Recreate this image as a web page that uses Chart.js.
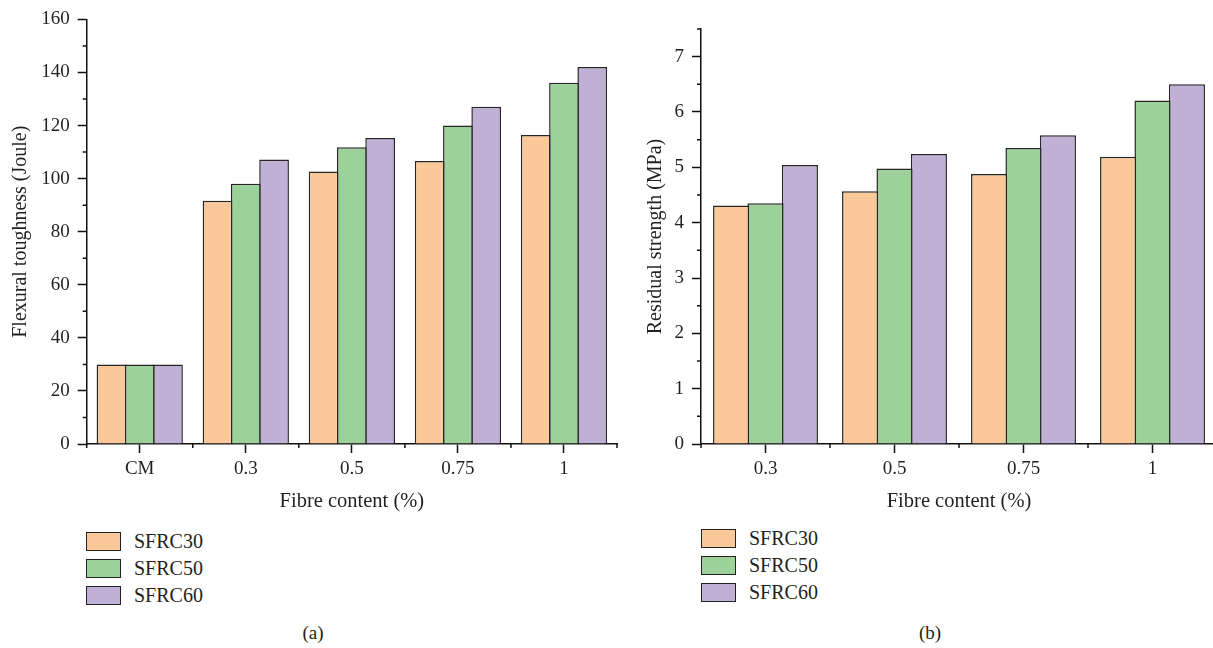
<!DOCTYPE html>
<html>
<head>
<meta charset="utf-8">
<script src="https://cdn.jsdelivr.net/npm/chart.js@4.4.0/dist/chart.umd.min.js"></script>
<style>
  body { margin: 0; width: 1213px; height: 648px; overflow: hidden; background: #fff; position: relative;
         font-family: 'Liberation Serif', 'DejaVu Serif', serif; color: #231f20; }
  canvas { position: absolute; top: 0; }
  #toughness { left: 0; }
  #residual { left: 600px; }
  .legend { position: absolute; font-size: 20px; }
  .legend .row { height: 27px; display: flex; align-items: center; }
  .legend .box { width: 35px; height: 19px; border: 1.2px solid #222; box-sizing: border-box; margin-right: 13px; }
  .caption { position: absolute; font-size: 19px; line-height: 22px; transform: translateX(-50%); }
</style>
</head>
<body>
<canvas id="toughness" width="640" height="520"></canvas>
<canvas id="residual" width="640" height="520"></canvas>
<div class="legend" id="legendA" style="left:86px; top:528px;"></div>
<div class="legend" id="legendB" style="left:701px; top:525px;"></div>
<div class="caption" style="left:313px; top:622px;">(a)</div>
<div class="caption" style="left:930px; top:622px;">(b)</div>
<script>
// Flexural toughness (J) per fibre content
const toughCategories = ['CM', '0.3', '0.5', '0.75', '1'];
const toughSFRC30 = [30, 91.7, 102.7, 106.6, 116.4];
const toughSFRC50 = [30, 98.1, 111.8, 120, 136.1];
const toughSFRC60 = [30, 107.2, 115.3, 127.1, 142.1];

// Residual strength (MPa) per fibre content
const residualCategories = ['0.3', '0.5', '0.75', '1'];
const residualSFRC30 = [4.31, 4.57, 4.88, 5.19];
const residualSFRC50 = [4.35, 4.98, 5.35, 6.21];
const residualSFRC60 = [5.04, 5.24, 5.58, 6.5];

const seriesNames = ['SFRC30', 'SFRC50', 'SFRC60'];
const seriesColors = ['#fbc899', '#9dd19a', '#c1b0d6'];

const FONT = "'Liberation Serif', 'DejaVu Serif', serif";
const INK = '#231f20';
const AXIS = '#111';

// short ticks between categories and minor ticks on the value axis
const axisTicks = {
  id: 'axisTicks',
  afterDraw(chart, args, opts) {
    const { ctx } = chart;
    const x = chart.scales.x, y = chart.scales.y;
    ctx.save();
    ctx.strokeStyle = AXIS;
    ctx.lineWidth = 1.5;
    ctx.beginPath();
    const n = x.ticks.length;
    for (let i = 0; i <= n; i++) {
      const px = x.left + i * x.width / n;
      ctx.moveTo(px, x.top);
      ctx.lineTo(px, x.top + 4);
    }
    for (let v = y.min; v <= y.max + 1e-9; v += opts.minor) {
      const r = v / opts.major;
      if (Math.abs(r - Math.round(r)) < 1e-6) continue;
      const py = y.getPixelForValue(v);
      ctx.moveTo(y.right - 4, py);
      ctx.lineTo(y.right, py);
    }
    ctx.stroke();
    ctx.restore();
  }
};

function makeChart(id, labels, values, cfg) {
  // bars slightly wider than their slot so neighbours share one outline
  const datasets = values.map((data, i) => ({
    label: seriesNames[i],
    data: data,
    backgroundColor: seriesColors[i],
    borderColor: '#262626',
    borderWidth: 1.5,
    borderSkipped: 'start',
    categoryPercentage: 0.8,
    barPercentage: 1.05
  }));
  return new Chart(document.getElementById(id), {
    type: 'bar',
    data: { labels, datasets },
    plugins: [axisTicks],
    options: {
      responsive: false,
      animation: false,
      layout: { padding: { left: 0, top: cfg.top, right: 23, bottom: 0 } },
      plugins: {
        legend: { display: false },
        tooltip: { enabled: false },
        axisTicks: { major: cfg.step, minor: cfg.step / 2 }
      },
      scales: {
        x: {
          offset: true,
          grid: { drawOnChartArea: false, offset: false, tickLength: 9, tickColor: AXIS, tickWidth: 1.5 },
          border: { display: true, color: AXIS, width: 1.5 },
          ticks: { color: INK, font: { family: FONT, size: 19 }, padding: 5 },
          title: { display: true, text: 'Fibre content (%)', color: INK,
                   font: { family: FONT, size: 20.5 }, padding: { top: 0, bottom: 6 } },
          afterFit(s) { s.height = 76; }
        },
        y: {
          min: 0,
          max: cfg.max,
          grid: { drawOnChartArea: false, tickLength: 9, tickColor: AXIS, tickWidth: 1.5 },
          border: { display: true, color: AXIS, width: 1.5 },
          ticks: { stepSize: cfg.step, color: INK, font: { family: FONT, size: 19 }, padding: 8 },
          title: { display: true, text: cfg.title, color: INK,
                   font: { family: FONT, size: 20 }, padding: { top: cfg.titlePad, bottom: 0 } },
          afterBuildTicks(s) {
            s.ticks = s.ticks.filter(t => Math.abs(t.value / cfg.step - Math.round(t.value / cfg.step)) < 1e-6);
          },
          afterFit(s) { s.width = cfg.axisWidth; }
        }
      }
    }
  });
}

makeChart('toughness', toughCategories, [toughSFRC30, toughSFRC50, toughSFRC60],
  { max: 160, step: 20, top: 15.3, axisWidth: 86.7, titlePad: 9, title: 'Flexural toughness (Joule)' });

makeChart('residual', residualCategories, [residualSFRC30, residualSFRC50, residualSFRC60],
  { max: 7.5, step: 1, top: 29, axisWidth: 101, titlePad: 44, title: 'Residual strength (MPa)' });

// legends under each panel
['legendA', 'legendB'].forEach(id => {
  const el = document.getElementById(id);
  seriesNames.forEach((name, i) => {
    const row = document.createElement('div');
    row.className = 'row';
    const box = document.createElement('span');
    box.className = 'box';
    box.style.background = seriesColors[i];
    row.appendChild(box);
    row.appendChild(document.createTextNode(name));
    el.appendChild(row);
  });
});
</script>
</body>
</html>
